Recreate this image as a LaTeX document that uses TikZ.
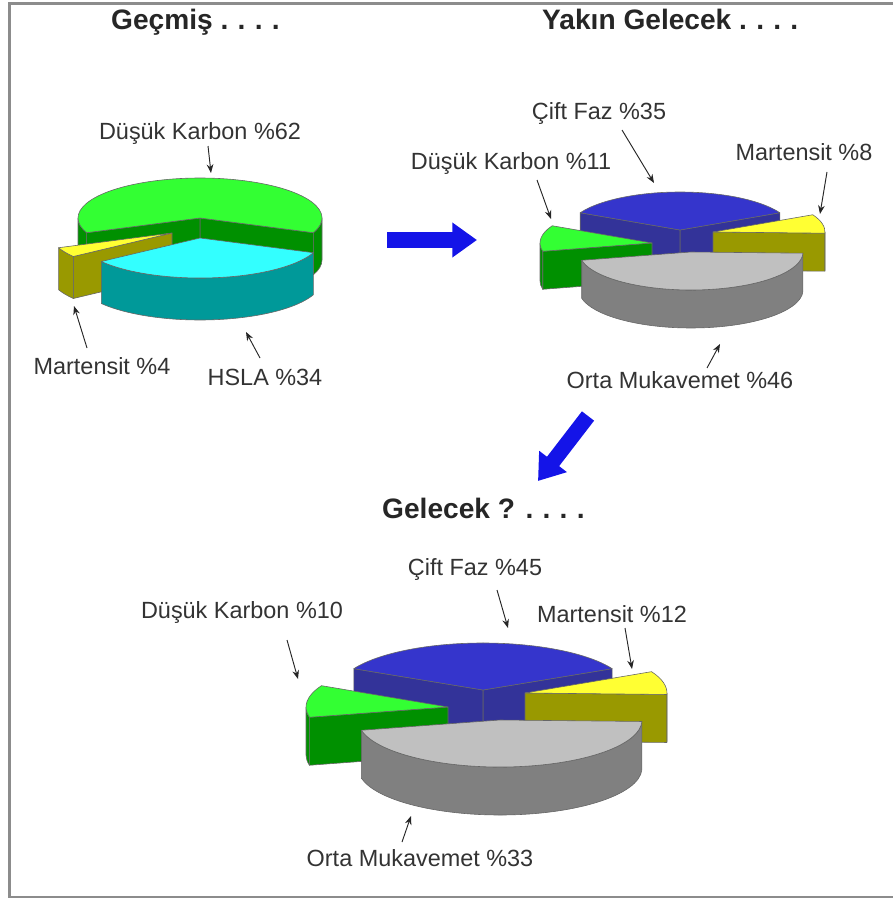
\documentclass[tikz,border=0pt]{standalone}
\usepackage{fontspec}
\setmainfont{Liberation Sans}
\usetikzlibrary{arrows.meta}

\definecolor{topGreen}{HTML}{33FF33}
\definecolor{sideGreen}{HTML}{009000}
\definecolor{topCyan}{HTML}{33FFFF}
\definecolor{sideCyan}{HTML}{009999}
\definecolor{topYellow}{HTML}{FFFF33}
\definecolor{sideYellow}{HTML}{999900}
\definecolor{topBlue}{HTML}{3535CC}
\definecolor{sideBlue}{HTML}{333399}
\definecolor{topGray}{HTML}{C0C0C0}
\definecolor{sideGray}{HTML}{808080}
\definecolor{arrowBlue}{HTML}{1414E8}
\definecolor{frameGray}{HTML}{8C8C8C}

%% one slice: centre x, centre y (pixels, downwards), rx, ry, height, start, end, top colour, side colour
\newcommand{\pieSlice}[9]{%
\begin{scope}[shift={(#1,-#2)}]
  \pgfmathsetmacro\cosStart{cos(#6)}
  \pgfmathsetmacro\cosEnd{cos(#7)}
  \ifdim\cosStart pt>0pt
    \filldraw[faceDecorate,fill=#9] (0,0) -- (#6:#3 and #4) -- ++(0,-#5) -- (0,-#5) -- cycle;
  \fi
  \ifdim\cosEnd pt<0pt
    \filldraw[faceDecorate,fill=#9] (0,0) -- (#7:#3 and #4) -- ++(0,-#5) -- (0,-#5) -- cycle;
  \fi
  \foreach \lo/\hi in {180/360, 540/720}
  {
    \pgfmathsetmacro\rimFrom{max(#6,\lo)}
    \pgfmathsetmacro\rimTo{min(#7,\hi)}
    \ifdim\rimFrom pt<\rimTo pt
      \filldraw[faceDecorate,fill=#9] (\rimFrom:#3 and #4)
        arc[start angle=\rimFrom,end angle=\rimTo,x radius=#3,y radius=#4]
        -- ++(0,-#5)
        arc[start angle=\rimTo,end angle=\rimFrom,x radius=#3,y radius=#4] -- cycle;
    \fi
  }
  \filldraw[faceDecorate,fill=#8] (0,0) -- (#6:#3 and #4)
    arc[start angle=#6,end angle=#7,x radius=#3,y radius=#4] -- cycle;
\end{scope}}

\newcommand{\spacedDots}{.\hspace{0.33em}.\hspace{0.33em}.\hspace{0.33em}.}

\begin{document}
\begin{tikzpicture}
[x=0.03cm,y=0.03cm,
  faceDecorate/.style={draw=black!60,line width=0.5pt,line join=round},%
  titleDecorate/.style={anchor=base west,inner sep=0pt,font=\fontsize{24}{28}\selectfont\bfseries,text=black!85},%
  labelDecorate/.style={inner sep=0pt,font=\fontsize{20}{24}\selectfont,text=black!80},%
  pointerDecorate/.style={-{Stealth[length=2.6mm,width=2mm]},line width=0.8pt,black!85},%
  arrowDecorate/.style={-{Triangle[length=7.4mm,width=10mm]},line width=4.6mm,arrowBlue}]
\useasboundingbox (0,0) rectangle (892,-900);
\draw[frameGray,line width=2.5pt] (9.5,-3.5) rectangle (905,-897);

%% titles
\foreach \titleName/\x/\y/\titleText in {past/111/30/Geçmiş \spacedDots,
  near/542/30/Yakın Gelecek \spacedDots, future/382/518/Gelecek ? \spacedDots}
{
  \node (\titleName) at (\x,-\y) [titleDecorate] {\titleText};
}

%% Geçmiş
\pieSlice{200}{218}{122}{40}{42}{338.4}{561.6}{topGreen}{sideGreen}
\pieSlice{172}{233}{122}{40}{42}{201.6}{216}{topYellow}{sideYellow}
\pieSlice{200}{238}{122}{40}{42}{216}{338.4}{topCyan}{sideCyan}

%% Yakın Gelecek
\pieSlice{680}{230}{112}{38}{38}{27}{153}{topBlue}{sideBlue}
\pieSlice{652}{243}{112}{38}{38}{153}{192.6}{topGreen}{sideGreen}
\pieSlice{713}{232}{112}{38}{38}{358.2}{387}{topYellow}{sideYellow}
\pieSlice{691}{252}{112}{38}{38}{192.6}{358.2}{topGray}{sideGray}

%% Gelecek
\pieSlice{483}{690}{145}{47}{48}{27}{153}{topBlue}{sideBlue}
\pieSlice{448}{707}{142}{47}{48}{153}{192.6}{topGreen}{sideGreen}
\pieSlice{525}{693}{142}{47}{48}{358.2}{387}{topYellow}{sideYellow}
\pieSlice{500}{720}{142}{47}{48}{192.6}{358.2}{topGray}{sideGray}

%% labels
\foreach \lblName/\x/\y/\lblText in {d62/200/133/Düşük Karbon \%62,
  m4/102/366/Martensit \%4, h34/265/377/HSLA \%34,
  c35/599/113/Çift Faz \%35, d11/511/163/Düşük Karbon \%11,
  m8/804/152/Martensit \%8, o46/680/380/Orta Mukavemet \%46,
  c45/475/569/Çift Faz \%45, d10/242/612/Düşük Karbon \%10,
  m12/612/614/Martensit \%12, o33/420/858/Orta Mukavemet \%33}
{
  \node (\lblName) at (\x,-\y) [labelDecorate] {\lblText};
}

%% label pointers
\foreach \lblName/\xs/\ys/\xt/\yt in {d62/208/146/211/173, m4/87/348/74/306,
  h34/260/358/246/332, c35/622/130/654/183, d11/537/180/551/219,
  m8/827/172/820/214, o46/707/368/720/344, c45/497/590/508/628,
  d10/287/640/298/679, m12/625/628/632/669, o33/402/842/411/816}
{
  \coordinate (\lblName-tail) at (\xs,-\ys);
  \coordinate (\lblName-tip) at (\xt,-\yt);
  \draw[pointerDecorate] (\lblName-tail) -- (\lblName-tip);
}

%% big arrows
\coordinate (pastOut) at (387,-240);
\coordinate (nearIn) at (477,-240);
\coordinate (nearOut) at (588,-416);
\coordinate (futureIn) at (538,-481);
\draw[arrowDecorate] (pastOut) -- (nearIn);
\draw[arrowDecorate] (nearOut) -- (futureIn);
\end{tikzpicture}
\end{document}
